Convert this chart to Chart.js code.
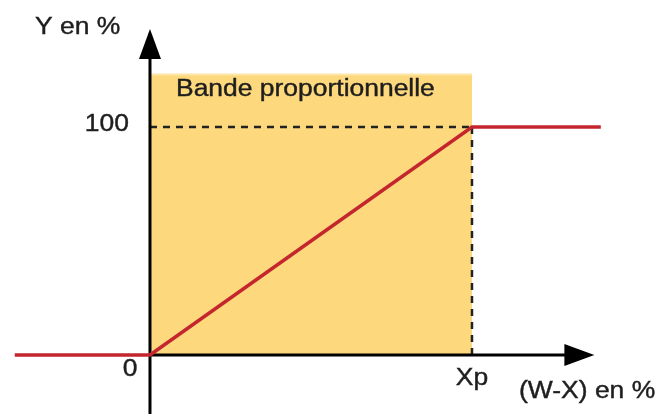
<!DOCTYPE html>
<html>
<head>
<meta charset="utf-8">
<script src="https://cdn.jsdelivr.net/npm/chart.js@4/dist/chart.umd.min.js"></script>
<style>
  html,body{margin:0;padding:0;background:#fff}
</style>
</head>
<body>
<canvas id="chart" width="661" height="414"></canvas>
<script>
// response curve: Y (%) as a function of (W-X) (%), Xp = 100
const respX=[-42,0,100,140];
const respY=[0,0,100,100];
// proportional band
const bandX=[0,100];
const bandTop=123;
// axes extents (in data units)
const xAxisEnd=138, yAxisEnd=143, yAxisStart=-26;
const tickLabelsY=['0','100'];
const tickLabelX='Xp';
const bandLabel='Bande proportionnelle';
const titleY='Y en %';
const titleX='(W-X) en %';

const pts=(xs,ys)=>xs.map((x,i)=>({x:x,y:ys[i]}));

const arrowsAndText={
  id:'arrowsAndText',
  afterDatasetsDraw(chart){
    const c=chart.ctx, sx=chart.scales.x, sy=chart.scales.y;
    const ox=sx.getPixelForValue(0), oy=sy.getPixelForValue(0);
    c.save();
    c.fillStyle='#000';
    // y arrow
    let tip=sy.getPixelForValue(yAxisEnd);
    c.beginPath();c.moveTo(ox,tip);c.lineTo(ox-11,tip+30);c.lineTo(ox+11,tip+30);c.closePath();c.fill();
    // x arrow
    tip=sx.getPixelForValue(xAxisEnd);
    c.beginPath();c.moveTo(tip,oy);c.lineTo(tip-30,oy-11);c.lineTo(tip-30,oy+11);c.closePath();c.fill();

    const txt=(s,x,y,align)=>{
      c.save();
      c.font='23px "Liberation Sans", Arial, sans-serif';
      c.fillStyle='#1e1e1e';
      c.strokeStyle='#1e1e1e';
      c.lineWidth=0.4;
      c.textBaseline='middle';
      const w=c.measureText(s).width*1.15;
      let left=x;
      if(align==='right') left=x-w; else if(align==='center') left=x-w/2;
      c.translate(left,y);c.scale(1.15,1);
      c.textAlign='left';
      c.fillText(s,0,0);
      c.strokeText(s,0,0);
      c.restore();
    };
    txt(titleY,35,28,'left');
    txt(bandLabel,176,90,'left');
    txt(tickLabelsY[1],129,sy.getPixelForValue(100)-2,'right');
    txt(tickLabelsY[0],130,oy+15,'center');
    txt(tickLabelX,sx.getPixelForValue(100),oy+24,'center');
    txt(titleX,519,392,'left');
    c.restore();
  }
};

new Chart(document.getElementById('chart'),{
  type:'scatter',
  data:{
    datasets:[
      {data:pts(respX,respY),showLine:true,borderColor:'#c4262e',borderWidth:3.5,pointRadius:0,order:0},
      {data:pts([0,xAxisEnd-8],[0,0]),showLine:true,borderColor:'#000',borderWidth:3,pointRadius:0,order:1},
      {data:pts([0,0],[yAxisStart,yAxisEnd-10]),showLine:true,borderColor:'#000',borderWidth:3,pointRadius:0,order:1},
      {data:pts([0,100],[100,100]),showLine:true,borderColor:'#222',borderWidth:2.5,borderDash:[7,6],pointRadius:0,order:2},
      {data:pts([100,100],[100,0]),showLine:true,borderColor:'#222',borderWidth:2.5,borderDash:[7,6],pointRadius:0,order:2},
      {data:pts(bandX,[bandTop,bandTop]),showLine:true,borderColor:'#fde6a8',borderWidth:2,backgroundColor:'#fdd87c',fill:'origin',pointRadius:0,order:3}
    ]
  },
  options:{
    responsive:false,
    animation:false,
    layout:{padding:0},
    scales:{
      x:{type:'linear',display:false,min:-46.58,max:158.7},
      y:{type:'linear',display:false,min:-25.88,max:155.7}
    },
    plugins:{legend:{display:false},tooltip:{enabled:false}}
  },
  plugins:[arrowsAndText]
});
</script>
</body>
</html>
